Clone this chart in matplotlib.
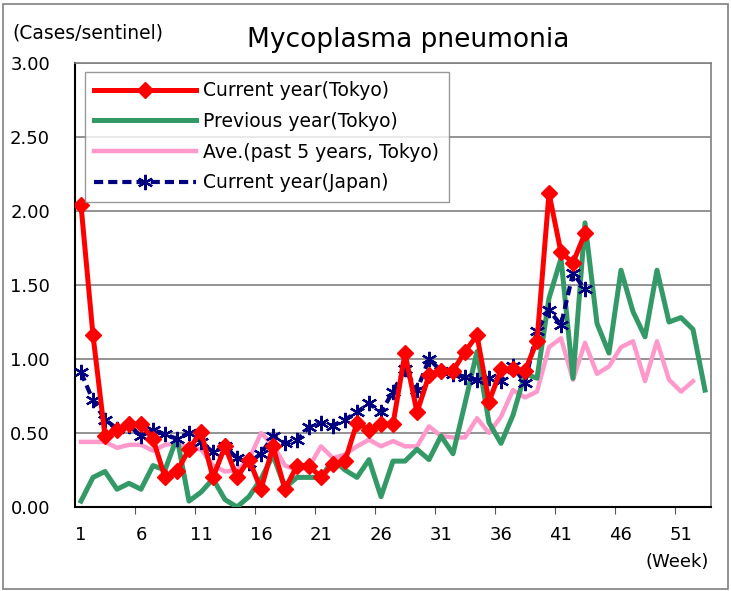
import numpy as np
import matplotlib
matplotlib.use("Agg")
import matplotlib.pyplot as plt
from matplotlib.patches import Rectangle

plt.rcParams["font.family"] = ["DejaVu Sans"]

# Weekly values (cases per sentinel)
tokyo_current = [2.04, 1.16, 0.48, 0.52, 0.56, 0.56, 0.46, 0.20, 0.24, 0.39,
                 0.51, 0.20, 0.41, 0.20, 0.32, 0.12, 0.41, 0.12, 0.28, 0.28,
                 0.20, 0.29, 0.31, 0.57, 0.52, 0.56, 0.56, 1.04, 0.64, 0.89,
                 0.92, 0.92, 1.05, 1.16, 0.71, 0.93, 0.93, 0.92, 1.12, 2.12,
                 1.72, 1.65, 1.85]
tokyo_previous = [0.04, 0.20, 0.24, 0.12, 0.16, 0.12, 0.28, 0.25, 0.47, 0.04,
                  0.10, 0.19, 0.05, 0.00, 0.07, 0.19, 0.35, 0.13, 0.20, 0.20,
                  0.20, 0.32, 0.25, 0.20, 0.32, 0.07, 0.31, 0.31, 0.39, 0.32,
                  0.48, 0.36, 0.70, 1.05, 0.57, 0.43, 0.62, 0.90, 0.87, 1.41,
                  1.68, 0.87, 1.92, 1.24, 1.04, 1.60, 1.32, 1.15, 1.60, 1.25,
                  1.28, 1.20, 0.79]
tokyo_avg5 = [0.44, 0.44, 0.44, 0.40, 0.42, 0.42, 0.38, 0.42, 0.43, 0.40,
              0.39, 0.28, 0.24, 0.25, 0.32, 0.50, 0.42, 0.28, 0.25, 0.27,
              0.41, 0.33, 0.355, 0.41, 0.455, 0.41, 0.445, 0.41, 0.41, 0.545,
              0.48, 0.47, 0.47, 0.60, 0.50, 0.61, 0.79, 0.74, 0.78, 1.08,
              1.14, 0.86, 1.11, 0.90, 0.95, 1.08, 1.12, 0.85, 1.12, 0.86,
              0.78, 0.85]
japan_current = [0.91, 0.72, 0.59, 0.53, 0.55, 0.48, 0.52, 0.49, 0.46, 0.50,
                 0.44, 0.37, 0.41, 0.33, 0.30, 0.36, 0.48, 0.43, 0.45, 0.54,
                 0.57, 0.55, 0.59, 0.64, 0.70, 0.64, 0.78, 0.93, 0.79, 1.00,
                 0.92, 0.90, 0.88, 0.86, 0.87, 0.85, 0.95, 0.84, 1.19, 1.33,
                 1.23, 1.58, 1.47]

week_labels = [1, 6, 11, 16, 21, 26, 31, 36, 41, 46, 51]
y_ticks = [0.0, 0.5, 1.0, 1.5, 2.0, 2.5, 3.0]

# Figure
fig = plt.figure(figsize=(7.31, 5.91), dpi=100)
ax = fig.add_axes([75 / 731, 1 - 507 / 591, 636 / 731, 444 / 591])

# Outer frame round the figure
fig.patches.append(Rectangle((0.004, 0.004), 0.992, 0.99, transform=fig.transFigure,
                             fill=False, edgecolor="#808080", linewidth=1.2))

weeks = lambda s: np.arange(1, len(s) + 1)

ax.plot(weeks(tokyo_avg5), tokyo_avg5, color="#FF99CC", linewidth=3.2,
        label="Ave.(past 5 years, Tokyo)", zorder=2)
ax.plot(weeks(tokyo_previous), tokyo_previous, color="#339966", linewidth=3.6,
        label="Previous year(Tokyo)", zorder=3)
ax.plot(weeks(japan_current), japan_current, color="#000080", linewidth=3.0,
        linestyle=(0, (2.2, 1.2)), marker=(6, 2, 0), markersize=11,
        markeredgewidth=1.6, label="Current year(Japan)", zorder=4)
ax.plot(weeks(tokyo_current), tokyo_current, color="#FF0000", linewidth=3.6,
        marker="D", markersize=8, label="Current year(Tokyo)", zorder=5)

# Axes
ax.set_xlim(0.5, 53.5)
ax.set_ylim(0, 3.0)
ax.set_yticks(y_ticks)
ax.set_yticklabels([f"{v:.2f}" for v in y_ticks], fontsize=13)
ax.tick_params(axis="y", length=0, pad=18)
ax.set_xticks(np.arange(5.5, 53, 5))
ax.set_xticklabels([])
ax.tick_params(axis="x", which="major", direction="out", length=5, color="#555555")
ax.set_xticks(week_labels, minor=True)
ax.set_xticklabels([str(w) for w in week_labels], minor=True, fontsize=13)
ax.tick_params(axis="x", which="minor", length=0, pad=14)
ax.yaxis.grid(True, color="#808080", linewidth=1.2)
ax.set_axisbelow(True)
for side in ["top", "right"]:
    ax.spines[side].set_color("#808080")
    ax.spines[side].set_linewidth(1.2)
for side in ["left", "bottom"]:
    ax.spines[side].set_color("black")
    ax.spines[side].set_linewidth(1.5)

# Texts
fig.text(247 / 731, 1 - 40 / 591, "Mycoplasma pneumonia", fontsize=19,
         ha="left", va="center")
fig.text(12 / 731, 1 - 33 / 591, "(Cases/sentinel)", fontsize=13.5,
         ha="left", va="center")
fig.text(677 / 731, 1 - 562 / 591, "(Week)", fontsize=13, ha="center", va="center")

# Legend
handles, labels = ax.get_legend_handles_labels()
order = [3, 1, 0, 2]
leg = ax.legend([handles[i] for i in order], [labels[i] for i in order],
                loc="upper left", bbox_to_anchor=(10 / 636, 1 - 9 / 444),
                fontsize=13.5, frameon=True, fancybox=False, edgecolor="#808080",
                handlelength=5.4, handletextpad=0.4, labelspacing=0.62,
                borderpad=0.5, borderaxespad=0)
leg.get_frame().set_linewidth(1.0)

plt.savefig("out.png", dpi=100)
plt.close()
